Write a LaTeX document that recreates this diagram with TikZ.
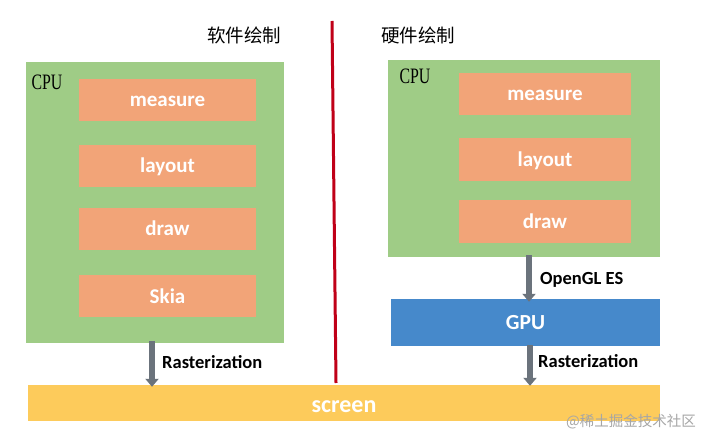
\documentclass[tikz,border=0pt]{standalone}
\usepackage{fontspec}
\usetikzlibrary{arrows.meta}
\setmainfont{Carlito}
\newfontfamily\cjk{Noto Sans CJK SC}
\newfontfamily\cpufont[FakeStretch=0.72]{Liberation Serif}
\definecolor{cgreen}{HTML}{9FCC86}
\definecolor{corange}{HTML}{F2A478}
\definecolor{cyellow}{HTML}{FDCB5B}
\definecolor{cblue}{HTML}{4689CB}
\definecolor{cred}{HTML}{C00018}
\definecolor{cgray}{HTML}{6B737C}
\begin{document}
\begin{tikzpicture}[x=1pt,y=-1pt,
  box/.style={rectangle,inner sep=0,draw=none,text height=17pt,text depth=3pt},
  greenbox/.style={box,fill=cgreen},
  stepbox/.style={box,fill=corange,text=white,font=\bfseries\fontsize{21}{24}\selectfont},
  title/.style={inner sep=0,font=\cjk\fontsize{18.5}{20}\selectfont},
  cpulabel/.style={inner sep=0,font=\cpufont\fontsize{22}{24}\selectfont},
  flow/.style={draw=cgray,line width=6pt,-{Triangle[width=13pt,length=8pt]}},
  flowlabel/.style={inner sep=0,anchor=west,font=\bfseries\fontsize{18.5}{20}\selectfont}]
\useasboundingbox[fill=white] (0,0) rectangle (703,435);
% titles
\node[title] (tsw) at (244,35) {软件绘制};
\node[title] (thw) at (418,35) {硬件绘制};
% red divider
\coordinate (rtop) at (332,21);
\coordinate (rbot) at (336,383);
\draw[cred,line width=3pt] (rtop) -- (rbot);
% left side
\node[greenbox,minimum width=258pt,minimum height=281pt] (cpuL) at (155,202.5) {};
\node[cpulabel] (cpuLl) at (47,82) {CPU};
\node[stepbox,minimum width=177pt,minimum height=42pt] (mL) at (167.5,100) {measure};
\node[stepbox,minimum width=177pt,minimum height=42pt] (lL) at (167.5,166) {layout};
\node[stepbox,minimum width=177pt,minimum height=42pt] (dL) at (167.5,229) {draw};
\node[stepbox,minimum width=177pt,minimum height=42pt] (sL) at (167.5,296) {Skia};
% right side
\node[greenbox,minimum width=272pt,minimum height=197pt] (cpuR) at (524,158.5) {};
\node[cpulabel] (cpuRl) at (415,76) {CPU};
\node[stepbox,minimum width=172pt,minimum height=42pt] (mR) at (545,94) {measure};
\node[stepbox,minimum width=172pt,minimum height=43pt] (lR) at (545,159.5) {layout};
\node[stepbox,minimum width=172pt,minimum height=43pt] (dR) at (545,221.5) {draw};
\node[box,fill=cblue,minimum width=269pt,minimum height=47pt,text=white,font=\bfseries\fontsize{21.5}{24}\selectfont] (gpu) at (525.5,322.5) {GPU};
% screen
\node[box,fill=cyellow,minimum width=632pt,minimum height=36pt,text height=19pt,text depth=1pt,text=white,font=\bfseries\fontsize{24}{26}\selectfont] (screen) at (344,403) {screen};
% arrows
\coordinate (xa) at (152,0);
\coordinate (xb) at (529,0);
\coordinate (xc) at (530,0);
\draw[flow] ([yshift=2pt]cpuL.south -| xa) -- ([yshift=-2pt]screen.north -| xa);
\node[flowlabel] (rl) at (162,362) {Rasterization};
\draw[flow] ([yshift=2pt]cpuR.south -| xb) -- ([yshift=-3pt]gpu.north -| xb);
\node[flowlabel] (ogl) at (540,280) {OpenGL ES};
\draw[flow] ([yshift=1pt]gpu.south -| xc) -- ([yshift=-1pt]screen.north -| xc);
\node[flowlabel] (rr) at (538,361) {Rasterization};
% watermark
\node[inner sep=0,text=black!35,font=\cjk\fontsize{14.5}{16}\selectfont] (wm) at (631,422) {@稀土掘金技术社区};
\end{tikzpicture}
\end{document}
